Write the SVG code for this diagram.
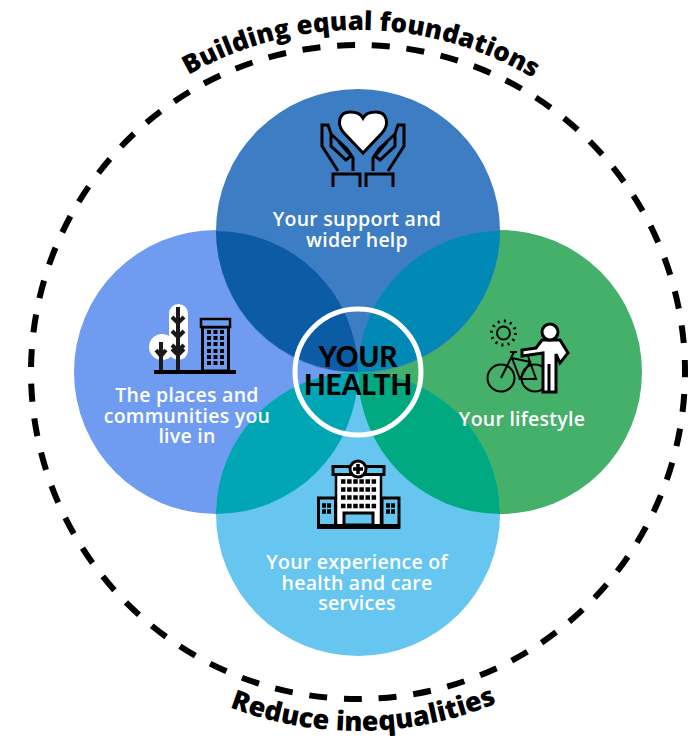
<svg xmlns="http://www.w3.org/2000/svg" xmlns:xlink="http://www.w3.org/1999/xlink" width="697" height="738" viewBox="0 0 697 738">
<style>
.lbl{font-family:"Open Sans","Liberation Sans",sans-serif;font-size:19.500px;letter-spacing:.25px;font-weight:600;fill:#fff;text-anchor:middle}
.arc{font-family:"Open Sans","Liberation Sans",sans-serif;font-weight:800;fill:#000;text-anchor:middle}
.hub{font-family:"Lato","Liberation Sans",sans-serif;font-size:28px;font-weight:900;fill:#000;text-anchor:middle}
.ln{fill:none;stroke:#000;stroke-width:3;stroke-linejoin:miter}
.wf{fill:#fff;stroke:#000;stroke-width:3}
</style>
<defs>
<path id="topArc" d="M16 372A342 342 0 0 1 700 372"/>
<path id="botArc" d="M-1 372A359 359 0 0 0 717 372"/>
</defs>
<rect width="697" height="738" fill="#fff"/>
<g id="connectors">
<circle cx="358" cy="372" r="327" fill="none" stroke="#000" stroke-width="6" stroke-dasharray="18 16.820" stroke-dashoffset="-22.100"/>
</g>
<g id="node-left"><circle cx="216" cy="372" r="142" fill="#6f9cf1"/></g>
<g id="node-right"><circle cx="500" cy="372" r="142" fill="#44b06a"/></g>
<g id="node-top"><circle cx="358" cy="231" r="142" fill="#3d7dc4"/></g>
<g id="node-bottom"><circle cx="358" cy="514" r="142" fill="#66c6f0"/></g>
<g id="overlaps">
<path d="M216 231A142 142 0 0 1 358 372A142 142 0 0 1 216 231Z" fill="#0b5ca4"/>
<path d="M500 231A142 142 0 0 1 358 372A142 142 0 0 1 500 231Z" fill="#0089b5"/>
<path d="M216 514A142 142 0 0 1 358 372A142 142 0 0 1 216 514Z" fill="#00a6b4"/>
<path d="M500 514A142 142 0 0 1 358 372A142 142 0 0 1 500 514Z" fill="#00a97f"/>
</g>
<g id="icon-hands">
<path class="wf" d="M363 153L344 133C336 124 339 112 350 112C356 112 361 114 363 118C365 114 370 112 376 112C387 112 390 124 382 133Z"/>
<path class="ln" d="M333 187V174H360V187M338 171L322 146V125H328L331 134L347 149L353 158V171M331 134V146L346 160L351 156L339 142"/>
<path class="ln" transform="translate(726 0) scale(-1 1)" d="M333 187V174H360V187M338 171L322 146V125H328L331 134L347 149L353 158V171M331 134V146L346 160L351 156L339 142"/>
</g>
<g id="icon-buildings">
<circle cx="162" cy="347" r="13" fill="#fff"/>
<rect x="169" y="304" width="19" height="56" rx="9.500" fill="#fff"/>
<rect x="154" y="370" width="82" height="4" fill="#000"/>
<path d="M178 307V370M172 317L178 323L184 317M172 331L178 337L184 331M172 345L178 351L184 345M172 349L178 355L184 349M161 342V370M156 350L161 356L166 350" fill="none" stroke="#1a1a1a" stroke-width="4"/>
<rect x="202.500" y="327" width="26" height="44" fill="#6f9cf1" stroke="#000" stroke-width="3"/>
<rect x="201" y="319" width="29" height="8" fill="#6f9cf1" stroke="#000" stroke-width="2.500"/>
<g fill="#000">
<rect x="207" y="330" width="4" height="4"/><rect x="213.500" y="330" width="4" height="4"/><rect x="220" y="330" width="4" height="4"/>
<rect x="207" y="336" width="4" height="4"/><rect x="213.500" y="336" width="4" height="4"/><rect x="220" y="336" width="4" height="4"/>
<rect x="207" y="342" width="4" height="4"/><rect x="213.500" y="342" width="4" height="4"/><rect x="220" y="342" width="4" height="4"/>
<rect x="207" y="349" width="4" height="4"/><rect x="213.500" y="349" width="4" height="4"/><rect x="220" y="349" width="4" height="4"/>
<rect x="207" y="355" width="4" height="4"/><rect x="213.500" y="355" width="4" height="4"/><rect x="220" y="355" width="4" height="4"/>
<rect x="207" y="361" width="4" height="4"/><rect x="213.500" y="361" width="4" height="4"/><rect x="220" y="361" width="4" height="4"/>
</g>
</g>
<g id="icon-lifestyle">
<circle class="ln" cx="503.500" cy="333" r="6.500" style="stroke-width:2"/>
<circle cx="503.500" cy="333" r="12" fill="none" stroke="#000" stroke-width="3" stroke-dasharray="2 4.280"/>
<circle class="ln" cx="501" cy="378" r="13.500" style="stroke-width:2"/>
<circle class="ln" cx="535" cy="378" r="13.500" style="stroke-width:2"/>
<path class="ln" style="stroke-width:2" d="M510 352H517M514 352L501 378M512 358L530 362L520 379H536L530 362M512 358L520 379M530 362L528 356"/>
<path class="wf" d="M543 392V353L522 356V350L536 348L542 340H560L568 353L560 363L556 354V392ZM549 364V392"/>
<circle class="wf" cx="550" cy="332" r="8"/>
</g>
<g id="icon-hospital">
<rect x="318.500" y="498" width="17" height="29" fill="#66c6f0" stroke="#000" stroke-width="3"/>
<rect x="382" y="498" width="17" height="29" fill="#66c6f0" stroke="#000" stroke-width="3"/>
<rect x="336" y="474" width="45" height="52" fill="#fff" stroke="#000" stroke-width="2.500"/>
<rect x="333" y="466.500" width="51" height="8" fill="#66c6f0" stroke="#000" stroke-width="3"/>
<rect x="317" y="524" width="83" height="5" fill="#000"/>
<circle cx="358" cy="469" r="8" fill="#fff" stroke="#000" stroke-width="3"/>
<path d="M358 464V474M353 469H363" stroke="#000" stroke-width="3.500"/>
<rect x="344" y="513" width="29" height="12" fill="#66c6f0" stroke="#000" stroke-width="3"/>
<path d="M341 481.500H377M341 489.500H377M341 497.500H377M341 506H377" fill="none" stroke="#000" stroke-width="4.500" stroke-dasharray="4.500 1.620"/>
<path d="M322 505.500H331M322 511.500H331M386 505.500H395M386 511.500H395" fill="none" stroke="#000" stroke-width="4.500" stroke-dasharray="4 1"/>
</g>
<g id="labels">
<text class="lbl" y="226"><tspan x="357">Your support and</tspan><tspan x="357" dy="20.500">wider help</tspan></text>
<text class="lbl" y="402"><tspan x="187">The places and</tspan><tspan x="187" dy="20.500">communities you</tspan><tspan x="187" dy="20.500">live in</tspan></text>
<text class="lbl" x="522" y="426">Your lifestyle</text>
<text class="lbl" y="569"><tspan x="357">Your experience of</tspan><tspan x="357" dy="20.500">health and care</tspan><tspan x="357" dy="20.500">services</tspan></text>
</g>
<g id="node-centre">
<circle cx="358" cy="372" r="63" fill="none" stroke="#fff" stroke-width="5"/>
<text class="hub" y="367"><tspan x="358">YOUR</tspan><tspan x="358" dy="28">HEALTH</tspan></text>
</g>
<g id="arc-labels">
<text class="arc" font-size="26"><textPath href="#topArc" xlink:href="#topArc" startOffset="50.300%">Building equal foundations</textPath></text>
<text class="arc" font-size="27"><textPath href="#botArc" xlink:href="#botArc" startOffset="50.500%">Reduce inequalities</textPath></text>
</g>
</svg>
